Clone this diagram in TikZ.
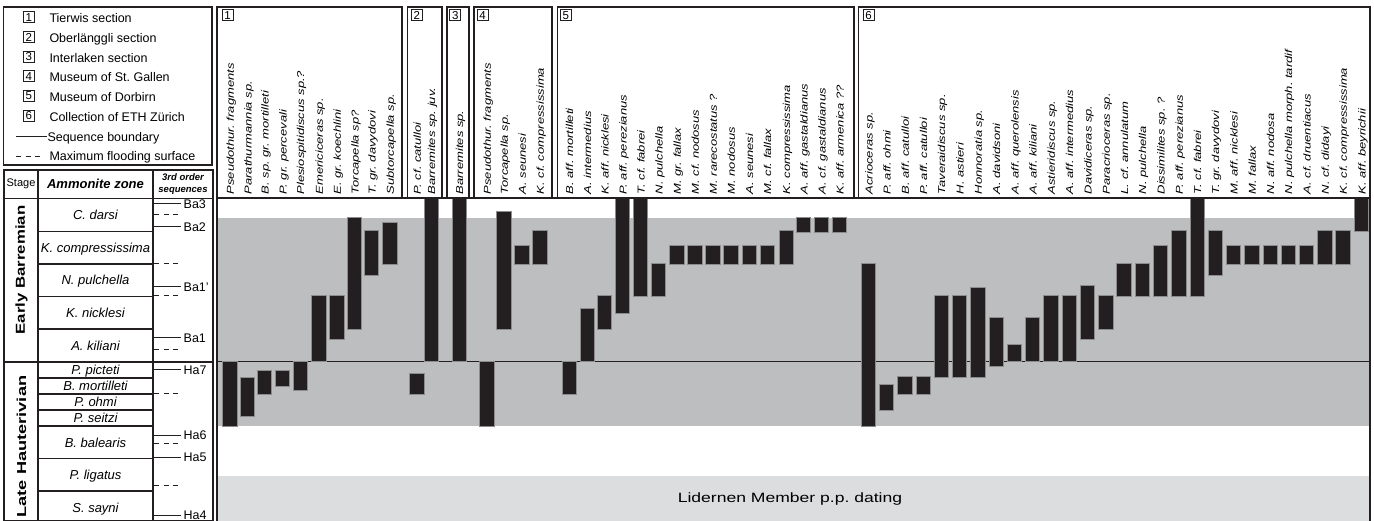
\documentclass[tikz,border=0pt]{standalone}
\usepackage{fontspec}
\setmainfont{Liberation Sans}
\usepackage{graphicx}
\frenchspacing
\definecolor{barc}{HTML}{231F20}
\definecolor{bandc}{RGB}{188,190,192}
\definecolor{lightband}{RGB}{220,221,223}
\definecolor{linec}{HTML}{231F20}
\tikzset{
  frame/.style={draw=linec, line width=1.4pt},
  barbox/.style={fill=barc, draw=black!45, line width=0.4pt},
  spec/.style={rotate=90, anchor=base west, inner sep=0pt, font=\fontsize{10}{12}\selectfont\itshape},
  zonelab/.style={anchor=base, inner sep=0pt, font=\fontsize{13}{15}\selectfont\itshape},
  seqlab/.style={anchor=base west, inner sep=0pt, font=\fontsize{12.5}{14}\selectfont},
  legtext/.style={anchor=base west, inner sep=0pt, font=\fontsize{12.5}{14}\selectfont},
  numbox/.style={draw=linec, line width=0.8pt, minimum width=11pt, minimum height=11pt, inner sep=0pt, font=\fontsize{11.5}{12}\selectfont, anchor=north west},
  sb/.style={draw=linec, line width=1pt},
  mfs/.style={draw=linec, line width=1pt, dash pattern=on 5pt off 4.5pt},
  stagelab/.style={rotate=90, inner sep=0pt, font=\fontsize{13}{15}\selectfont\bfseries},
}
\newcommand\taxon[5]{%
  \path[barbox] (#2,#3) rectangle ({#2+14.4},#4);
  \node[spec] (#1) at ({#2+11.5},194.5) {\scalebox{1.3}[1]{#5}};
}
\begin{document}
\begin{tikzpicture}[x=1pt,y=-1pt]
\useasboundingbox (0,0) rectangle (1374,521);
% ---------- background bands ----------
\fill[bandc] (217,217.7) rectangle (1370,426);
\fill[lightband] (217,476) rectangle (1370,521);
\node[font=\fontsize{13.5}{15}\selectfont, inner sep=0pt] (lider) at (790,499) {\scalebox{1.3}[1]{Lidernen Member p.p. dating}};
\draw[linec, line width=1pt] (217,361.5) -- (1370,361.5);
% ---------- section 1 ----------
\taxon{a1}{222.3}{361}{426}{Pseudothur. fragments}
\taxon{a2}{240}{377.7}{415.7}{Parathurmannia sp.}
\taxon{a3}{257}{370.3}{394}{B. sp. gr. mortilleti}
\taxon{a4}{275}{370.3}{386}{P. gr. percevali}
\taxon{a5}{292.7}{361}{390}{Plesiospitidiscus sp.?}
\taxon{a6}{311.3}{295.3}{361}{Emericiceras sp.}
\taxon{a7}{329.3}{295.3}{339}{E. gr. koechlini}
\taxon{a8}{347}{217.7}{329.3}{Torcapella sp?}
\taxon{a9}{364}{230.7}{275.7}{T. gr. davydovi}
\taxon{a10}{382.3}{222.7}{264.3}{Subtorcapella sp.}
% ---------- section 2 ----------
\taxon{b1}{409.3}{373.3}{394}{P. cf. catulloi}
\taxon{b2}{423.7}{198.5}{361}{Barremites sp. juv.}
% ---------- section 3 ----------
\taxon{c1}{451.7}{198.5}{361}{Barremites sp.}
% ---------- section 4 ----------
\taxon{d1}{479.3}{361}{426}{Pseudothur. fragments}
\taxon{d2}{496.3}{211.7}{329.3}{Torcapella sp.}
\taxon{d3}{514.3}{245.7}{264.3}{A. seunesi}
\taxon{d4}{532.3}{230.7}{264.3}{K. cf. compressissima}
% ---------- section 5 ----------
\taxon{e1}{561.7}{361}{394}{B. aff. mortilleti}
\taxon{e2}{579.7}{308.3}{361}{A. intermedius}
\taxon{e3}{597}{295.3}{329.3}{K. aff. nicklesi}
\taxon{e4}{615}{198.5}{313.3}{P. aff. perezianus}
\taxon{e5}{633}{198.5}{296.7}{T. cf. fabrei}
\taxon{e6}{651}{263.3}{296.7}{N. pulchella}
\taxon{e7}{669.3}{245.7}{264.3}{M. gr. fallax}
\taxon{e8}{687.3}{245.7}{264.3}{M. cf. nodosus}
\taxon{e9}{705.3}{245.7}{264.3}{M. rarecostatus ?}
\taxon{e10}{723.3}{245.7}{264.3}{M. nodosus}
\taxon{e11}{741.7}{245.7}{264.3}{A. seunesi}
\taxon{e12}{759.7}{245.7}{264.3}{M. cf. fallax}
\taxon{e13}{778.7}{230.7}{264.3}{K. compressissima}
\taxon{e14}{796}{217.7}{232.7}{A. aff. gastaldianus}
\taxon{e15}{814}{217.7}{232.7}{A. cf. gastaldianus}
\taxon{e16}{832}{217.7}{232.7}{K. aff. armenica ??}
% ---------- section 6 ----------
\taxon{f1}{861}{263.3}{426}{Acrioceras sp.}
\taxon{f2}{879}{383.7}{410}{P. aff. ohmi}
\taxon{f3}{897.3}{376.7}{394}{B. aff. catulloi}
\taxon{f4}{915.7}{376.7}{394}{P. aff. catulloi}
\taxon{f5}{933.7}{295.3}{377.7}{Taveraidiscus sp.}
\taxon{f6}{952}{295.3}{377.7}{H. astieri}
\taxon{f7}{970.3}{287.3}{377.7}{Honnoratia sp.}
\taxon{f8}{988.7}{317.7}{366}{A. davidsoni}
\taxon{f9}{1007}{344.7}{361}{A. aff. querolensis}
\taxon{f10}{1025}{317.7}{361}{A. aff. kiliani}
\taxon{f11}{1043.3}{295.3}{361}{Astieridiscus sp.}
\taxon{f12}{1061.7}{295.3}{361}{A. aff. intermedius}
\taxon{f13}{1080}{285}{339}{Davidiceras sp.}
\taxon{f14}{1098.3}{295.3}{329.3}{Paracrioceras sp.}
\taxon{f15}{1116.5}{263.3}{296.7}{L. cf. annulatum}
\taxon{f16}{1134.7}{263.3}{296.7}{N. pulchella}
\taxon{f17}{1153}{245.7}{296.7}{Dissimilites sp. ?}
\taxon{f18}{1171.3}{230.7}{296.7}{P. aff. perezianus}
\taxon{f19}{1189.7}{198.5}{296.7}{T. cf. fabrei}
\taxon{f20}{1207.7}{230.7}{275.7}{T. gr. davydovi}
\taxon{f21}{1226}{245.7}{264.3}{M. aff. nicklesi}
\taxon{f22}{1244.3}{245.7}{264.3}{M. fallax}
\taxon{f23}{1262.7}{245.7}{264.3}{N. aff. nodosa}
\taxon{f24}{1280.7}{245.7}{264.3}{N. pulchella morph. tardif}
\taxon{f25}{1299}{245.7}{264.3}{A. cf. druentiacus}
\taxon{f26}{1317.3}{230.7}{264.3}{N. cf. didayi}
\taxon{f27}{1335.3}{230.7}{264.3}{K. cf. compressissima}
\taxon{f28}{1354}{198.5}{231.7}{K. aff. beyrichii}
% ---------- section boxes ----------
\draw[frame] (217,7) rectangle (402,198);
\draw[frame] (407.5,7) rectangle (442,198);
\draw[frame] (447,7) rectangle (469,198);
\draw[frame] (474,7) rectangle (552,198);
\draw[frame] (557.5,7) rectangle (854,198);
\draw[frame] (858.5,7) rectangle (1370,198);
\node[numbox] (n1) at (221.7,9.3) {1};
\node[numbox] (n2) at (411,9.3) {2};
\node[numbox] (n3) at (449.3,9.3) {3};
\node[numbox] (n4) at (476.7,9.3) {4};
\node[numbox] (n5) at (560,9.3) {5};
\node[numbox] (n6) at (862.7,9.3) {6};
% ---------- chart frame ----------
\draw[frame] (217,198) -- (1370,198);
\draw[frame] (217,198) -- (217,521);
\draw[frame] (1370,198) -- (1370,521);
% ---------- legend ----------
\draw[frame] (3.5,7) rectangle (212,165);
\node[numbox, anchor=center] (k1) at (28.8,17.3) {1};
\node[numbox, anchor=center] (k2) at (28.8,37) {2};
\node[numbox, anchor=center] (k3) at (28.8,56.7) {3};
\node[numbox, anchor=center] (k4) at (28.8,76.4) {4};
\node[numbox, anchor=center] (k5) at (28.8,96.1) {5};
\node[numbox, anchor=center] (k6) at (28.8,115.8) {6};
\node[legtext] (l1) at (49.3,22.9) {Tierwis section};
\node[legtext] (l2) at (49.3,42.6) {Oberlänggli section};
\node[legtext] (l3) at (49.3,62.3) {Interlaken section};
\node[legtext] (l4) at (49.3,82) {Museum of St. Gallen};
\node[legtext] (l5) at (49.3,101.7) {Museum of Dorbirn};
\node[legtext] (l6) at (49.3,121.4) {Collection of ETH Zürich};
\node[legtext] (l7) at (47.3,141.1) {Sequence boundary};
\node[legtext] (l8) at (49.3,160.8) {Maximum flooding surface};
\coordinate (l7s) at (16,136.5);
\coordinate (l8s) at (16,156.2);
\draw[sb] (l7s) -- (l7.base west |- l7s);
\draw[mfs] (l8s) -- ++(27,0);
% ---------- left table ----------
\draw[frame] (4,170) rectangle (213,521);
\draw[frame] (4,198.5) -- (213,198.5);
\draw[frame] (38,170) -- (38,521);
\draw[frame] (153,170) -- (153,521);
\draw[frame] (4,362) -- (213,362);
\foreach \yy in {231.5,264,296.5,329,378,394,410,426,458.5,491}
  \draw[frame] (38,\yy) -- (153,\yy);
\node[font=\fontsize{11}{12}\selectfont, inner sep=0pt] (hstage) at (21,184) {Stage};
\node[font=\fontsize{13}{15}\selectfont\bfseries\itshape, inner sep=0pt] (hzone) at (95.5,184) {Ammonite zone};
\node[font=\fontsize{9.5}{12}\selectfont\bfseries\itshape, align=center, inner sep=0pt] (hseq) at (183,184.5) {3rd order\\sequences};
\node[stagelab] (stEB) at (21.5,270) {\scalebox{1.29}[1]{Early Barremian}};
\node[stagelab] (stLH) at (21.5,446.5) {\scalebox{1.4}[1]{Late Hauterivian}};
\node[zonelab] (z1) at (95.5,219.9) {C. darsi};
\node[zonelab] (z2) at (95.5,252.4) {K. compressissima};
\node[zonelab] (z3) at (95.5,284.9) {N. pulchella};
\node[zonelab] (z4) at (95.5,317.4) {K. nicklesi};
\node[zonelab] (z5) at (95.5,350.2) {A. kiliani};
\node[zonelab] (z6) at (95.5,374.6) {P. picteti};
\node[zonelab] (z7) at (95.5,390.6) {B. mortilleti};
\node[zonelab] (z8) at (95.5,406.6) {P. ohmi};
\node[zonelab] (z9) at (95.5,422.8) {P. seitzi};
\node[zonelab] (z10) at (95.5,447.6) {B. balearis};
\node[zonelab] (z11) at (95.5,479.5) {P. ligatus};
\node[zonelab] (z12) at (95.5,512.3) {S. sayni};
% sequences
\foreach \nm/\lab/\yy in {Ba3/Ba3/204, Ba2/Ba2/227, Bap/Ba1'/287, Ba1/Ba1/338, Ha7/Ha7/370, Ha6/Ha6/435, Ha5/Ha5/457, Ha4/Ha4/515}{
  \node[seqlab] (\nm) at (183.5,\yy+4.5) {\lab};
  \draw[sb] (153,\yy) -- (181,\yy);
}
\foreach \yy in {215,264,296,350,393,443,485}
  \draw[mfs] (154,\yy) -- (178,\yy);
\end{tikzpicture}
\end{document}
